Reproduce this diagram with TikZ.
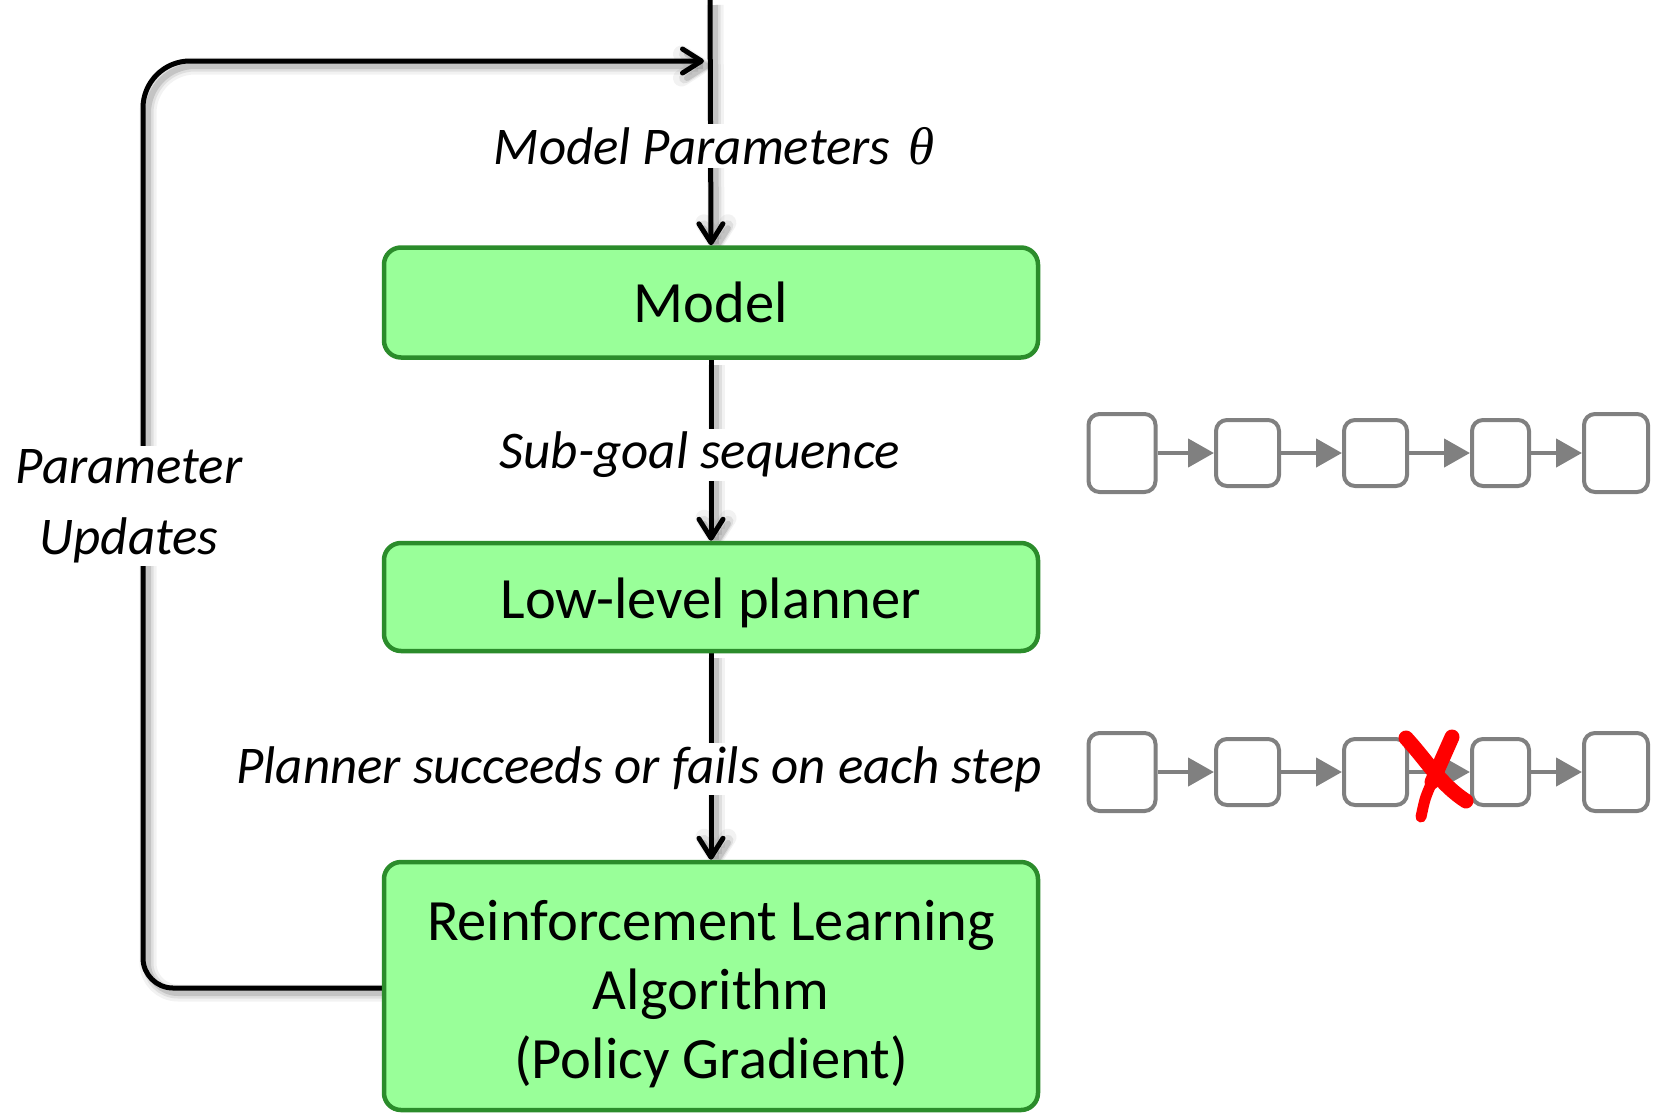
\documentclass[tikz,border=0pt]{standalone}
\usepackage{fontspec}
\setmainfont{Carlito}
\newfontfamily\symbolfont{Liberation Serif}
\usetikzlibrary{arrows.meta}

\pgfdeclarelayer{bg}
\pgfsetlayers{bg,main}

\definecolor{boxfill}{RGB}{153,255,153}
\definecolor{boxedge}{RGB}{43,140,43}
\definecolor{chaingray}{RGB}{128,128,128}
\definecolor{crossred}{RGB}{255,0,0}

\tikzset{
  stage/.style={draw=boxedge, fill=boxfill, line width=4.5pt, rounded corners=17pt,
    minimum width=654pt, align=center, inner sep=0pt,
    font=\fontsize{58.5}{69}\selectfont},
  flowlabel/.style={fill=white, inner sep=3pt, align=center,
    font=\fontsize{53}{71}\selectfont\itshape},
  softshadow/.style={
    preaction={draw=black, opacity=0.05, line width=17pt, transform canvas={shift={(5pt,-5pt)}}},
    preaction={draw=black, opacity=0.08, line width=11pt, transform canvas={shift={(5pt,-5pt)}}},
    preaction={draw=black, opacity=0.12, line width=6pt, transform canvas={shift={(5pt,-5pt)}}}},
  flow/.style={line width=5pt, softshadow},
  flowarrow/.style={flow, -{Straight Barb[length=19pt, width=24pt, line cap=round, line join=round]}},
  bigcell/.style={draw=chaingray, line width=4pt, rounded corners=11pt, minimum width=67pt, minimum height=78pt, inner sep=0pt},
  smallcell/.style={draw=chaingray, line width=4pt, rounded corners=11pt, minimum width=63pt, minimum height=66pt, inner sep=0pt},
  cellarrow/.style={draw=chaingray, line width=4.5pt, -{Triangle[length=26pt, width=28pt]}},
}

\begin{document}
\begin{tikzpicture}[x=1pt, y=-1pt]
\useasboundingbox (0,0) rectangle (1655,1114);

% processing stages
\node[stage, minimum height=110pt] (model) at (711,302.5) {Model};
\node[stage, minimum height=108pt] (planner) at (711,597) {\rule{0pt}{52pt}Low-level planner};
\node[stage, minimum height=248pt] (rl) at (711,986)
  {\rule{0pt}{56pt}Reinforcement Learning\\Algorithm\\(Policy Gradient)};

% labels sitting on the connectors
\node[flowlabel] (params) at (714,146) {Model Parameters\hspace{18pt}{\symbolfont θ}};
\node[flowlabel] (subgoal) at (700,455) {Sub-goal sequence};
\node[flowlabel] (outcome) at (639,769) {Planner succeeds or fails on each step};
\node[flowlabel] (updates) at (129,506) {Parameter\\Updates};

% helper points of the feedback loop
\coordinate (top) at (710,0);
\coordinate (entry) at (704,61);
\coordinate (loopmid) at (143,506);

\begin{pgfonlayer}{bg}
  \draw[flowarrow] (top) -- (model.north);
  \draw[flowarrow] (model.south) -- (planner.north);
  \draw[flowarrow] (planner.south) -- (rl.north);
  \draw[flow, rounded corners=30pt] (rl.west |- 0,988) -- (143,988) -- (loopmid);
  \draw[flowarrow, rounded corners=47pt] (loopmid) -- (143,61) -- (entry);
\end{pgfonlayer}

% sub-goal sequence
\node[bigcell]   (a1) at (1122,453) {};
\node[smallcell] (a2) at (1247.5,453) {};
\node[smallcell] (a3) at (1375.5,453) {};
\node[smallcell, minimum width=57pt] (a4) at (1500.5,453) {};
\node[bigcell, minimum width=64pt] (a5) at (1616,453) {};
\foreach \i/\j in {1/2,2/3,3/4,4/5} \draw[cellarrow] (a\i) -- (a\j);

% executed sequence
\node[bigcell]   (b1) at (1122,772) {};
\node[smallcell] (b2) at (1247.5,772) {};
\node[smallcell] (b3) at (1375.5,772) {};
\node[smallcell, minimum width=57pt] (b4) at (1500.5,772) {};
\node[bigcell, minimum width=64pt] (b5) at (1616,772) {};
\foreach \i/\j in {1/2,2/3,3/4,4/5} \draw[cellarrow] (b\i) -- (b\j);

% failure mark on the step between b3 and b4
\draw[crossred, line width=15pt, line cap=round]
  (1406,738) .. controls (1428,762) and (1440,784) .. (1466,801);
\draw[crossred, line width=15pt, line cap=round]
  (1452,737) .. controls (1442,760) .. (1432,782);
\draw[crossred, line width=11pt, line cap=round]
  (1432,782) .. controls (1425,798) .. (1421,817);
\end{tikzpicture}
\end{document}
